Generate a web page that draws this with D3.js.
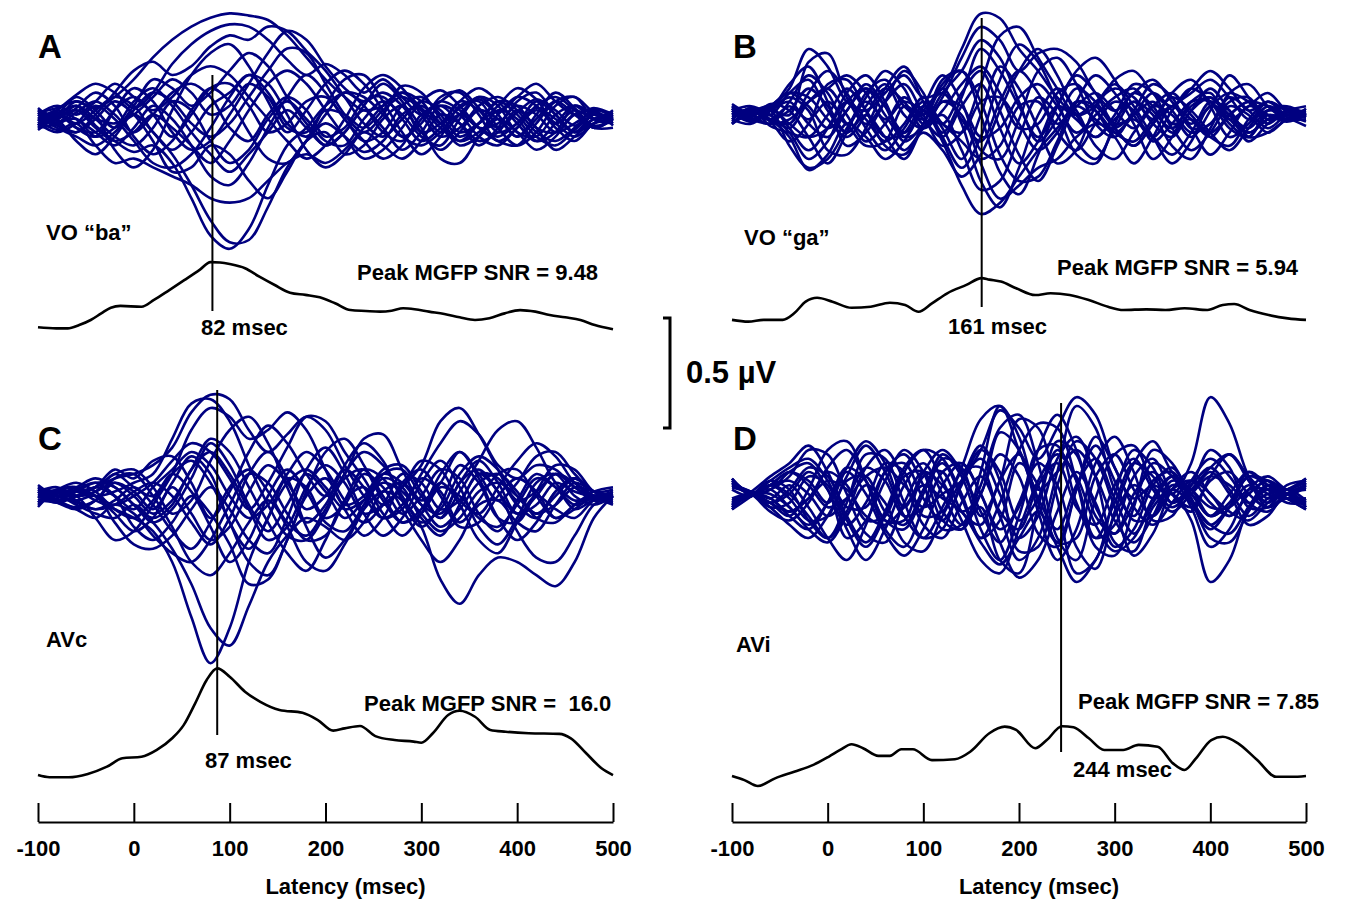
<!DOCTYPE html>
<html><head><meta charset="utf-8">
<script src="https://cdn.jsdelivr.net/npm/d3@7"></script>
<style>
html,body{margin:0;padding:0;background:#fff;}
svg{display:block;}
text{font-family:"Liberation Sans",Arial,Helvetica,sans-serif;font-weight:bold;fill:#000;}
</style></head><body>
<svg id="chart" width="1354" height="904"></svg>
<script>
// Sample latencies (ms) shared by every channel waveform
const sampleTimes = [-100,-80,-60,-40,-20,0,20,40,60,80,100,120,140,160,180,200,220,240,260,280,300,320,340,360,380,400,420,440,460,480,500];
const tickValues = [-100,0,100,200,300,400,500];

// Channel waveforms (µV), one row per channel — VO "ba"
const chanA = [
 [0.03,0.05,0.08,0.05,0.10, 0.18,0.28,0.36,0.42,0.46, 0.48,0.47,0.45,0.38,0.28, 0.18,0.10,0.04,0.06,0.12, 0.08,-0.02,0.05,0.09,0.03, 0.10,0.16,0.08,0.02,0.05, 0.02],
 [-0.02,0.04,0.11,0.16,0.12, 0.05,0.12,0.25,0.34,0.40, 0.43,0.42,0.36,0.27,0.20, 0.25,0.20,0.12,0.18,0.10, 0.02,0.08,0.13,0.05,-0.04, 0.03,0.09,0.04,-0.03,0.02, 0.01],
 [0.02,-0.03,-0.06,0.02,0.12, 0.22,0.26,0.20,0.24,0.33, 0.38,0.36,0.42,0.40,0.31, 0.22,0.10,-0.02,-0.08,0.00, 0.08,0.04,-0.06,-0.02,0.06, 0.14,0.09,-0.02,0.04,0.00, -0.01],
 [-0.02,0.02,0.06,-0.03,-0.10, -0.15,-0.12,-0.20,-0.36,-0.53, -0.59,-0.50,-0.30,-0.12,-0.04, 0.06,0.12,0.10,0.02,-0.08, -0.12,-0.06,0.02,-0.04,-0.08, -0.02,0.05,0.00,-0.06,-0.02, 0.00],
 [0.01,-0.04,-0.08,-0.12,-0.06, 0.02,-0.06,-0.16,-0.30,-0.46, -0.56,-0.55,-0.40,-0.22,-0.10, -0.02,-0.08,-0.15,-0.10,0.02, 0.06,-0.02,-0.12,-0.08,0.00, -0.06,-0.14,-0.08,0.02,-0.04, 0.00],
 [0.00,-0.05,-0.02,-0.12,-0.20, -0.18,-0.22,-0.26,-0.30,-0.36, -0.38,-0.36,-0.28,-0.20,-0.16, -0.20,-0.14,-0.04,0.06,0.12, 0.05,-0.04,-0.10,-0.02,0.08, 0.02,-0.08,-0.12,-0.05,0.02, 0.00],
 [0.02,0.06,0.02,0.08,0.16, 0.10,0.04,0.10,0.20,0.24, 0.20,0.10,0.00,-0.10,-0.18, -0.12,0.00,0.14,0.20,0.14, 0.02,-0.08,-0.04,0.06,0.10, 0.04,-0.06,-0.10,-0.04,0.04, 0.01],
 [-0.03,0.00,0.04,-0.04,-0.10, -0.06,0.02,-0.04,-0.12,-0.20, -0.10,0.04,0.16,0.22,0.16, 0.04,-0.08,-0.18,-0.14,-0.04, 0.08,0.13,0.06,-0.04,-0.10, -0.12,-0.02,0.08,0.10,0.03, 0.00],
 [0.04,0.00,-0.10,-0.16,-0.08, 0.04,0.12,0.08,-0.02,-0.08, -0.02,0.10,0.22,0.32,0.30, 0.16,0.02,-0.06,0.02,0.15, 0.12,0.00,-0.10,-0.06,0.02, 0.10,0.06,-0.04,-0.10,-0.02, 0.00],
 [-0.04,-0.02,0.05,0.12,0.06, -0.08,-0.16,-0.10,0.04,0.14, 0.08,-0.06,-0.18,-0.20,-0.10, 0.06,0.18,0.20,0.08,-0.06, -0.16,-0.08,0.06,0.08,-0.04, -0.12,-0.06,0.06,0.10,0.00, -0.02],
 [0.00,0.03,-0.04,-0.08,0.04, 0.14,0.08,-0.06,-0.14,-0.10, 0.02,0.16,0.30,0.40,0.36, 0.24,0.14,0.08,0.12,0.06, -0.06,-0.14,-0.06,0.04,0.00, -0.08,0.02,0.12,0.05,-0.03, 0.00],
 [-0.02,-0.06,-0.02,0.06,0.00, -0.10,-0.20,-0.22,-0.16,-0.04, 0.10,0.20,0.16,0.02,-0.14, -0.22,-0.16,-0.06,-0.12,-0.18, -0.10,0.02,-0.02,-0.10,-0.06, 0.04,-0.04,-0.14,-0.08,0.00, 0.00],
 [0.03,0.01,0.08,0.02,-0.14, -0.22,-0.14,0.04,0.20,0.30, 0.34,0.24,0.08,-0.06,0.04, 0.16,0.22,0.16,0.04,-0.08, -0.02,0.10,0.12,0.02,-0.10, -0.04,0.06,0.10,0.04,-0.04, 0.00],
 [-0.01,0.04,0.00,-0.06,-0.12, -0.04,0.06,0.00,-0.12,-0.26, -0.30,-0.20,-0.04,0.10,0.20, 0.12,0.00,-0.10,-0.18,-0.12, 0.02,0.06,-0.02,-0.12,-0.04, 0.08,0.12,0.02,-0.06,0.02, 0.00],
 [0.02,-0.02,-0.06,0.00,0.08, 0.02,-0.10,-0.24,-0.22,-0.12, -0.16,-0.28,-0.36,-0.24,-0.10, -0.06,-0.16,-0.12,0.00,0.06, -0.04,-0.18,-0.20,-0.08,0.04, 0.00,-0.10,-0.06,0.06,0.02, 0.00],
 [-0.03,0.02,0.10,0.04,-0.04, 0.06,0.18,0.14,0.06,0.12, 0.22,0.30,0.24,0.10,-0.02, -0.12,-0.06,0.06,0.16,0.08, -0.06,-0.02,0.08,0.14,0.08, -0.02,-0.10,-0.02,0.06,0.02, 0.00],
 [0.04,-0.02,0.03,0.08,0.02, -0.06,0.02,0.12,0.16,0.10, -0.04,-0.10,0.02,0.10,0.04, -0.08,-0.04,0.08,0.10,0.00, -0.10,-0.04,0.08,0.04,-0.06, -0.02,0.08,0.02,-0.06,0.00, 0.03],
 [-0.04,0.02,-0.04,-0.06,0.04, 0.10,0.02,-0.08,0.02,0.14, 0.16,0.06,-0.06,-0.02,0.08, 0.10,0.00,-0.10,-0.06,0.06, 0.10,0.02,-0.08,-0.02,0.08, 0.06,-0.04,-0.06,0.02,0.04, -0.03],
 [0.03,0.00,0.06,0.00,-0.08, -0.12,-0.04,0.08,0.04,-0.10, -0.20,-0.14,0.00,0.08,0.00, -0.10,-0.12,0.00,0.08,0.02, -0.08,-0.12,0.00,0.10,0.06, -0.06,-0.08,0.02,0.06,0.00, 0.02],
 [-0.03,0.03,-0.02,0.04,0.10, 0.06,-0.06,-0.14,-0.06,0.06, 0.12,0.20,0.12,-0.02,-0.08, 0.02,0.12,0.06,-0.06,-0.10, 0.00,0.08,0.04,-0.04,-0.02, 0.06,0.02,-0.06,-0.02,0.03, -0.02],
 [0.05,-0.01,0.00,-0.08,-0.04, 0.08,0.14,0.06,-0.06,-0.16, -0.24,-0.16,-0.06,0.04,-0.04, -0.12,-0.06,0.04,-0.04,-0.14, -0.06,0.06,0.02,-0.08,-0.12, -0.04,0.04,-0.02,-0.08,-0.02, 0.04],
 [-0.05,0.01,0.04,0.00,-0.02, 0.02,0.10,0.18,0.12,0.02, 0.06,0.16,0.10,-0.04,-0.06, 0.04,0.02,-0.04,0.04,0.10, 0.04,-0.06,0.02,0.10,0.02, -0.08,0.00,0.08,0.02,-0.04, -0.04]
];

// VO "ga"
const chanB = [
 [0.02,-0.02,0.03,0.12,0.30, 0.22,0.06,0.02,0.10,0.18, 0.08,0.12,0.30,0.46,0.44, 0.30,0.20,0.08,0.00,0.06, 0.12,0.08,-0.02,0.04,0.10, 0.16,0.08,-0.02,0.02,0.03, 0.01],
 [-0.02,0.03,-0.02,-0.10,-0.25, -0.18,-0.04,-0.10,-0.20,-0.12, 0.02,-0.12,-0.32,-0.45,-0.40, -0.28,-0.16,-0.06,0.04,-0.02, -0.10,-0.22,-0.10,0.04,-0.06, -0.18,-0.08,0.04,0.00,-0.03, 0.00],
 [0.03,0.00,-0.04,0.06,0.18, 0.10,-0.04,0.08,0.20,0.12, -0.04,0.08,0.26,0.40,0.34, 0.20,0.28,0.30,0.24,0.10, 0.02,0.10,0.16,0.06,-0.04, 0.04,0.10,0.06,-0.02,0.00, 0.00],
 [-0.03,0.01,0.04,-0.06,-0.16, -0.06,0.10,0.18,0.06,-0.10, -0.06,0.06,0.00,-0.22,-0.38, -0.32,-0.24,-0.20,-0.10,-0.04, -0.06,0.00,0.06,-0.06,-0.16, -0.08,0.04,0.00,-0.08,-0.02, 0.00],
 [0.01,-0.03,0.02,0.14,0.22, 0.06,-0.14,-0.08,0.06,0.20, 0.10,-0.08,0.08,0.30,0.20, 0.04,-0.10,0.04,0.20,0.26, 0.16,0.00,-0.10,0.02,0.12, 0.06,-0.06,-0.10,0.02,0.04, 0.00],
 [0.00,0.02,-0.03,-0.12,-0.04, 0.14,0.16,0.02,-0.14,-0.18, -0.04,0.14,0.20,0.06,-0.18, -0.30,-0.28,-0.12,0.06,0.02, -0.08,-0.12,-0.02,0.08,0.02, -0.08,-0.16,-0.06,0.04,0.00, -0.01],
 [0.02,0.04,0.00,-0.08,-0.20, -0.12,0.06,0.12,0.00,-0.10, 0.04,0.18,0.06,-0.16,-0.20, -0.02,0.20,0.26,0.14,-0.04, -0.10,0.02,0.14,0.08,-0.06, -0.04,0.10,0.14,0.04,-0.02, 0.00],
 [-0.02,-0.04,0.02,0.08,0.02, -0.16,-0.18,-0.06,0.12,0.22, 0.06,-0.10,-0.24,-0.10,0.16, 0.32,0.24,0.06,-0.12,-0.20, -0.06,0.06,0.00,-0.14,-0.20, -0.06,0.08,0.02,-0.06,0.00, 0.01],
 [0.04,0.00,0.04,0.10,0.04, -0.06,0.02,0.14,0.04,-0.12, -0.04,0.12,-0.04,-0.30,-0.42, -0.24,0.00,0.12,0.02,-0.14, -0.20,-0.08,0.04,0.00,-0.10, 0.02,0.18,0.08,-0.04,0.02, 0.00],
 [-0.04,0.02,-0.02,-0.04,0.10, 0.20,0.10,-0.06,-0.16,-0.06, 0.06,-0.06,-0.20,0.00,0.22, 0.12,-0.06,-0.22,-0.16,0.04, 0.14,0.04,-0.10,-0.22,-0.12, 0.04,0.00,-0.12,-0.04,0.02, 0.00],
 [0.02,-0.01,0.05,0.02,-0.10, -0.22,-0.08,0.10,0.16,0.04, -0.02,0.10,0.20,0.34,0.26, 0.06,-0.12,-0.02,0.12,0.06, -0.06,-0.14,-0.04,0.10,0.16, 0.04,-0.10,-0.04,0.06,0.02, -0.01],
 [-0.01,0.03,0.00,0.10,0.16, 0.02,-0.08,0.00,-0.10,-0.20, -0.06,0.00,-0.16,-0.34,-0.30, -0.10,0.08,0.00,-0.18,-0.22, -0.04,0.10,0.04,-0.08,0.02, 0.12,0.02,-0.08,-0.02,0.00, 0.01],
 [0.03,-0.02,-0.04,-0.02,0.06, 0.12,0.18,0.10,-0.02,0.06, 0.02,-0.04,0.10,0.20,0.02, -0.18,-0.30,-0.14,0.06,0.18, 0.10,-0.04,-0.20,-0.10,0.06, 0.10,-0.02,0.04,0.10,0.02, 0.00],
 [-0.03,0.00,0.02,-0.14,-0.24, -0.20,-0.06,0.06,-0.04,-0.16, -0.08,-0.16,-0.28,-0.18,0.02, 0.20,0.30,0.18,0.00,-0.10, 0.00,0.14,0.10,-0.04,-0.02, -0.10,-0.14,-0.02,0.06,0.00, 0.00],
 [0.00,0.02,-0.02,0.04,-0.02, 0.06,-0.04,-0.14,-0.12,0.04, 0.00,0.16,0.20,0.00,-0.26, -0.36,-0.18,0.04,0.18,0.10, -0.04,-0.02,-0.10,-0.18,-0.08, 0.06,0.02,-0.10,-0.08,-0.02, 0.00],
 [0.02,0.00,0.02,0.00,0.24, 0.28,0.08,-0.04,0.06,0.14, 0.00,-0.14,-0.08,0.14,0.36, 0.40,0.26,0.12,0.00,0.04, 0.16,0.20,0.10,0.04,0.12, 0.20,0.12,0.02,0.06,0.02, 0.00],
 [0.04,-0.02,0.02,0.06,-0.04, -0.10,0.02,0.12,0.04,-0.08, 0.02,0.10,-0.02,-0.12,0.06, 0.20,0.10,-0.04,0.04,0.10, 0.02,-0.06,0.04,0.10,0.00, -0.08,0.00,0.06,0.00,-0.02, 0.03],
 [-0.04,0.02,0.00,-0.06,0.06, 0.12,0.00,-0.12,-0.04,0.08, -0.02,-0.10,0.04,0.14,-0.06, -0.22,-0.12,0.04,-0.02,-0.10, -0.02,0.06,-0.04,-0.10,0.02, 0.08,0.00,-0.06,0.02,0.00, -0.03],
 [0.03,-0.03,0.04,0.10,0.08, -0.02,-0.10,0.00,0.12,0.06, -0.06,0.02,0.14,0.22,0.10, -0.06,-0.04,0.10,0.14,0.02, -0.08,0.00,0.10,0.02,-0.08, -0.04,0.06,0.08,-0.02,0.01, 0.02],
 [-0.02,0.03,-0.05,-0.08,-0.10, 0.00,0.12,0.02,-0.10,-0.08, 0.04,-0.04,-0.12,-0.20,-0.14, 0.04,0.06,-0.08,-0.16,-0.04, 0.06,0.02,-0.12,-0.04,0.06, 0.06,-0.04,-0.10,0.00,-0.02, -0.02],
 [0.05,0.00,-0.02,0.02,0.12, 0.04,-0.08,0.04,0.14,0.00, -0.06,0.06,0.04,-0.10,-0.06, 0.08,0.14,0.04,-0.08,0.00, 0.08,0.12,0.02,-0.06,0.04, 0.08,-0.02,-0.08,-0.02,0.02, 0.04],
 [-0.04,0.01,0.03,-0.04,-0.10, -0.06,0.06,-0.02,-0.12,-0.04, 0.08,-0.04,-0.08,0.06,0.08, -0.04,-0.16,-0.08,0.06,0.04, -0.06,-0.14,-0.04,0.04,-0.02, -0.10,0.00,0.06,0.04,-0.01, -0.05]
];

// AVc
const chanC = [
 [0.02,-0.02,0.02,-0.02,-0.06, -0.10,-0.16,-0.30,-0.55,-0.76, -0.60,-0.30,-0.10,0.06,0.12, 0.04,-0.06,-0.02,0.06,0.02, -0.08,-0.16,-0.10,0.02,0.06, 0.00,-0.08,-0.04,0.04,0.02, 0.00],
 [-0.02,0.00,-0.04,-0.08,-0.10, -0.04,-0.12,-0.24,-0.40,-0.60, -0.68,-0.50,-0.30,-0.18,-0.10, -0.14,-0.20,-0.12,0.02,0.06, -0.04,-0.14,-0.06,0.06,0.10, 0.02,-0.10,-0.12,-0.04,0.00, 0.01],
 [0.03,0.02,0.00,0.04,0.08, 0.10,0.14,0.22,0.38,0.46, 0.44,0.30,0.20,0.28,0.36, 0.30,0.14,0.00,-0.10,-0.04, 0.10,0.24,0.34,0.28,0.14, 0.08,0.14,0.12,0.04,0.00, 0.00],
 [-0.01,0.03,0.04,0.00,0.02, 0.06,0.10,0.26,0.42,0.44, 0.34,0.14,-0.04,-0.18,-0.20, -0.08,0.10,0.20,0.14,0.00, -0.12,-0.06,0.10,0.18,0.12, 0.00,-0.08,0.00,0.08,0.02, -0.01],
 [0.00,-0.02,0.02,0.06,0.04, -0.04,-0.10,-0.04,0.12,0.20, 0.10,-0.06,-0.20,-0.14,0.04, 0.14,0.06,-0.08,-0.04,0.04, 0.14,0.34,0.40,0.28,0.12, -0.02,0.02,0.10,0.04,-0.02, 0.00],
 [0.02,0.00,-0.03,-0.06,-0.04, 0.02,0.06,0.00,-0.12,-0.22, -0.10,0.10,0.20,0.08,-0.14, -0.28,-0.20,-0.06,0.02,-0.02, -0.14,-0.38,-0.49,-0.36,-0.28, -0.30,-0.36,-0.41,-0.30,-0.10, 0.00],
 [-0.03,0.02,0.00,-0.10,-0.20, -0.16,-0.04,0.10,0.30,0.40, 0.36,0.26,0.30,0.38,0.30, 0.12,-0.04,0.00,0.12,0.14, 0.02,-0.10,0.02,0.16,0.30, 0.34,0.22,0.06,-0.02,0.00, 0.00],
 [0.02,-0.03,-0.06,-0.02,0.08, 0.10,0.00,-0.14,-0.30,-0.36, -0.26,-0.12,-0.02,-0.14,-0.30, -0.34,-0.22,-0.06,0.08,0.04, -0.10,-0.18,-0.04,0.10,0.02, -0.16,-0.28,-0.30,-0.18,-0.04, 0.00],
 [0.00,0.03,0.06,0.02,-0.06, -0.10,-0.02,0.10,0.16,0.06, -0.12,-0.30,-0.36,-0.20,0.02, 0.20,0.26,0.14,-0.02,-0.12, -0.06,0.10,0.20,0.08,-0.10, -0.20,-0.12,0.02,0.08,0.02, 0.00],
 [-0.02,-0.01,0.02,0.04,0.10, 0.12,0.04,-0.08,-0.02,0.16, 0.30,0.36,0.24,0.04,-0.12, -0.04,0.14,0.24,0.16,-0.02, -0.14,-0.04,0.14,0.06,-0.10, -0.12,0.02,0.14,0.12,0.02, 0.00],
 [0.03,0.00,-0.02,0.00,-0.12, -0.22,-0.24,-0.18,-0.06,0.04, -0.06,-0.20,-0.26,-0.10,0.12, 0.22,0.10,-0.08,-0.18,-0.10, 0.06,0.16,0.04,-0.14,-0.22, -0.10,0.06,0.10,0.00,-0.04, 0.00],
 [-0.03,0.02,0.04,0.00,-0.04, 0.00,0.06,0.16,0.24,0.20, 0.08,-0.06,0.06,0.22,0.36, 0.34,0.20,0.08,-0.04,0.04, 0.16,0.12,-0.02,-0.08,0.04, 0.16,0.24,0.18,0.06,0.00, 0.00],
 [0.01,-0.02,-0.06,-0.10,-0.04, -0.08,-0.18,-0.26,-0.30,-0.20, -0.04,0.10,0.06,-0.08,-0.20, -0.18,-0.02,0.12,0.08,-0.06, -0.20,-0.30,-0.20,-0.04,-0.02, -0.12,-0.16,-0.04,0.06,0.02, 0.00],
 [0.02,0.04,0.00,0.02,0.06, 0.00,-0.08,-0.02,0.12,0.26, 0.20,0.04,-0.12,-0.26,-0.34, -0.20,-0.02,0.04,-0.08,-0.18, -0.08,0.06,-0.04,-0.20,-0.26, -0.12,0.00,-0.06,-0.10,-0.02, 0.00],
 [-0.02,0.00,0.03,0.06,0.00, -0.14,-0.20,-0.12,0.00,-0.08, -0.22,-0.40,-0.38,-0.20,0.00, 0.08,-0.06,-0.18,-0.10,0.06, 0.12,0.00,-0.14,-0.12,0.00, 0.08,0.02,-0.10,-0.06,0.00, 0.00],
 [0.00,-0.03,0.00,0.04,0.12, 0.08,0.16,0.18,0.06,-0.10, 0.02,0.20,0.32,0.24,0.10, 0.00,0.10,0.26,0.28,0.12, -0.02,0.06,0.20,0.10,-0.02, 0.06,0.18,0.20,0.10,0.02, 0.00],
 [0.04,-0.02,0.00,0.04,0.00, -0.06,0.04,0.12,0.20,0.14, 0.00,-0.10,-0.04,0.10,0.20, 0.12,-0.02,-0.12,-0.04,0.10, 0.06,-0.06,-0.02,0.10,0.08, -0.04,-0.10,0.02,0.08,0.02, 0.03],
 [-0.04,0.02,-0.02,-0.06,-0.02, 0.04,-0.04,-0.16,-0.24,-0.12, 0.04,0.12,0.02,-0.12,-0.18, -0.06,0.08,0.12,0.00,-0.12, -0.08,0.04,0.00,-0.10,-0.14, -0.04,0.08,0.04,-0.06,-0.02, -0.03],
 [0.03,0.01,0.04,0.08,0.04, -0.04,-0.12,-0.06,0.08,0.24, 0.14,-0.04,-0.16,-0.04,0.10, 0.02,-0.10,-0.02,0.10,0.06, -0.04,-0.08,0.06,0.16,0.06, -0.08,-0.04,0.06,0.02,0.00, 0.02],
 [-0.02,-0.03,-0.05,-0.02,0.06, 0.02,-0.06,0.06,0.18,0.10, -0.12,-0.24,-0.10,0.08,0.04, -0.10,-0.04,0.10,0.04,-0.08, 0.00,0.12,0.08,-0.08,-0.16, -0.02,0.10,0.04,-0.04,-0.01, -0.02],
 [0.05,0.00,0.02,0.00,-0.08, -0.16,-0.10,0.04,-0.08,-0.20, -0.14,0.02,0.14,0.06,-0.06, 0.00,0.12,0.04,-0.10,-0.06, 0.08,0.02,-0.12,-0.02,0.10, 0.12,0.00,-0.10,-0.04,0.02, 0.04],
 [-0.05,0.02,0.00,0.02,0.10, 0.04,0.00,0.10,0.02,-0.14, -0.30,-0.20,0.00,0.12,0.02, -0.12,-0.16,-0.04,0.10,0.12, 0.00,-0.10,0.06,0.12,0.02, -0.08,0.00,0.10,0.06,0.00, -0.04]
];

// AVi
const chanD = [
 [0.06,0.00,0.04,0.10,0.04, -0.06,-0.02,0.08,0.12,0.04, -0.06,0.00,0.06,0.20,0.38, 0.30,0.16,0.30,0.44,0.36, 0.12,-0.02,0.04,0.00,0.14, 0.44,0.32,0.08,-0.04,0.04, 0.06],
 [-0.06,0.00,-0.04,-0.08,-0.02, 0.06,0.02,-0.10,-0.14,-0.06, 0.04,-0.02,-0.08,-0.22,-0.32, -0.20,-0.08,-0.24,-0.40,-0.30, -0.10,0.04,-0.02,0.00,-0.12, -0.40,-0.30,-0.06,0.04,-0.02, -0.07],
 [0.04,0.01,-0.06,-0.14,-0.20, -0.10,0.08,0.22,0.10,-0.10, -0.20,-0.06,0.12,0.34,0.40, 0.20,0.02,0.10,0.20,0.08, -0.12,-0.22,-0.10,0.06,0.02, -0.10,-0.04,0.10,0.04,-0.02, 0.05],
 [-0.04,0.01,0.08,0.14,0.22, 0.10,-0.10,-0.22,-0.08,0.12, 0.20,0.06,-0.12,-0.30,-0.36, -0.16,0.06,0.18,0.08,-0.14, -0.26,-0.20,-0.02,0.08,0.00, -0.10,0.00,0.10,0.02,-0.04, -0.04],
 [0.02,-0.01,0.04,0.00,-0.10, -0.20,-0.08,0.12,0.20,0.06, -0.14,-0.20,-0.04,0.08,-0.10, -0.30,-0.20,0.10,0.40,0.30, 0.02,-0.10,0.06,0.10,-0.04, -0.16,-0.06,0.08,0.06,0.00, 0.03],
 [-0.02,0.00,-0.04,-0.10,0.02, 0.20,0.24,0.06,-0.16,-0.24, -0.06,0.16,0.12,-0.10,0.06, 0.34,0.30,-0.02,-0.36,-0.30, 0.00,0.20,0.12,-0.04,0.04, 0.20,0.12,-0.06,-0.06,0.02, -0.03],
 [0.07,0.00,0.06,0.12,0.16, 0.06,-0.12,-0.24,-0.10,0.10, 0.20,0.16,0.00,-0.20,-0.04, 0.20,0.32,0.30,0.06,-0.24, -0.28,-0.06,0.20,0.14,-0.02, -0.20,-0.22,-0.08,0.04,0.02, 0.07],
 [-0.05,0.01,-0.02,0.04,-0.06, -0.20,-0.30,-0.14,0.10,0.18, 0.04,-0.16,-0.14,0.04,0.30, 0.36,0.14,-0.20,-0.30,-0.02, 0.18,0.22,0.04,-0.06,0.02, 0.12,0.18,0.06,-0.06,-0.02, -0.05],
 [0.03,0.00,-0.08,-0.12,-0.04, 0.12,0.20,0.06,-0.12,-0.16, 0.00,0.18,0.08,-0.16,-0.30, -0.10,0.20,0.36,0.20,-0.06, -0.18,-0.04,0.14,0.08,-0.06, -0.24,-0.16,0.02,0.08,0.02, 0.02],
 [-0.07,-0.01,0.06,0.02,-0.12, -0.20,-0.04,0.18,0.16,-0.04, -0.20,-0.16,0.06,0.22,0.06, -0.26,-0.24,0.04,0.24,0.16, -0.06,-0.28,-0.18,0.02,0.10, 0.00,-0.08,-0.12,-0.04,0.02, -0.06],
 [0.05,0.00,0.02,0.08,0.20, 0.18,0.00,-0.18,-0.22,-0.04, 0.10,0.04,-0.08,0.00,0.28, 0.20,-0.08,-0.30,-0.16,0.14, 0.26,0.10,-0.12,-0.10,0.06, 0.16,0.08,-0.04,-0.08,0.00, 0.04],
 [-0.03,0.00,-0.06,-0.04,0.08, 0.04,-0.16,-0.30,-0.16,0.04, 0.14,0.00,-0.14,-0.06,-0.30, -0.36,-0.06,0.20,0.06,-0.20, -0.14,0.08,0.16,0.00,-0.08, 0.08,0.18,0.08,0.00,-0.02, -0.02],
 [0.04,0.01,0.00,-0.06,-0.16, -0.22,-0.10,0.04,-0.04,-0.22, -0.26,-0.10,0.06,0.16,0.00, -0.20,-0.10,0.16,0.26,0.08, -0.22,-0.26,-0.06,0.02,-0.04, -0.14,-0.18,-0.06,0.02,0.00, 0.04],
 [-0.04,-0.01,0.04,0.10,0.06, -0.04,0.12,0.24,0.14,-0.06, 0.10,0.20,0.10,-0.08,-0.22, -0.04,0.14,0.04,-0.24,-0.34, -0.08,0.14,0.24,0.10,0.02, 0.10,0.00,-0.14,-0.10,0.00, -0.04],
 [0.06,0.00,-0.04,0.00,0.10, 0.02,-0.20,-0.12,0.06,0.20, 0.10,-0.12,-0.16,0.10,0.40, 0.26,-0.04,-0.22,0.02,0.26, 0.12,-0.06,-0.14,-0.04,0.06, 0.00,-0.10,0.00,0.06,0.02, 0.06],
 [-0.06,0.00,0.02,-0.06,-0.14, -0.04,0.10,0.00,-0.18,-0.28, -0.16,0.04,0.14,0.00,-0.22, -0.38,-0.30,-0.08,0.10,-0.04, -0.24,-0.16,0.04,0.12,-0.02, -0.14,-0.06,0.04,-0.02,0.00, -0.06],
 [0.05,0.00,0.04,0.06,0.00, -0.10,-0.02,0.12,0.06,-0.10, -0.06,0.10,0.14,0.00,-0.16, -0.06,0.20,0.22,-0.04,-0.20, -0.04,0.14,0.08,-0.04,0.04, 0.12,0.02,-0.10,-0.02,0.02, 0.05],
 [-0.05,0.00,-0.02,-0.08,-0.02, 0.10,0.04,-0.12,-0.10,0.08, 0.10,-0.08,-0.16,0.00,0.18, 0.08,-0.18,-0.24,0.02,0.22, 0.06,-0.12,-0.10,0.04,0.00, -0.10,-0.04,0.08,0.04,-0.02, -0.05],
 [0.04,0.01,-0.04,0.02,0.12, 0.08,-0.06,-0.06,0.10,0.14, -0.02,-0.12,0.04,0.20,0.10, -0.12,-0.02,0.24,0.18,-0.10, -0.18,0.00,0.10,0.00,-0.06, 0.06,0.10,0.00,-0.06,0.00, 0.04],
 [-0.04,-0.01,0.04,-0.02,-0.12, -0.10,0.06,0.08,-0.08,-0.14, 0.02,0.14,-0.02,-0.20,-0.12, 0.14,0.04,-0.22,-0.20,0.08, 0.18,0.02,-0.10,0.02,0.06, -0.04,-0.10,0.00,0.06,0.00, -0.04],
 [0.07,0.00,0.02,0.10,0.14, 0.02,-0.14,-0.04,0.14,0.10, -0.10,-0.08,0.10,0.12,-0.08, -0.16,0.04,0.14,-0.06,-0.14, 0.04,0.16,0.02,-0.08,0.00, 0.08,0.04,-0.04,0.00,0.02, 0.07],
 [-0.07,0.00,-0.02,-0.10,-0.16, -0.04,0.12,0.06,-0.12,-0.12, 0.08,0.10,-0.08,-0.14,0.06, 0.18,-0.02,-0.16,0.04,0.16, -0.02,-0.18,-0.04,0.08,0.02, -0.06,-0.06,0.02,0.02,-0.02, -0.07]
];

// Mean global field power (µV) with its own latency samples (ms)
const mgfpTimesA = [-100,-81,-69,-57,-45,-34,-24,-14,8,21,37,53,69,80,90,100,116,131,147,163,179,194,210,226,242,257,269,281,293,308,324,340,356,371,387,403,419,434,450,466,481,500];
const mgfpA = [0.058,0.053,0.053,0.068,0.091,0.121,0.147,0.155,0.151,0.182,0.227,0.273,0.32,0.354,0.352,0.345,0.326,0.288,0.25,0.215,0.205,0.194,0.167,0.136,0.132,0.129,0.133,0.144,0.14,0.129,0.118,0.103,0.091,0.099,0.121,0.136,0.129,0.114,0.103,0.091,0.068,0.049];
const mgfpTimesB = [-100,-83,-67,-47,-35,-23,-11,5,25,45,65,81,95,109,125,145,161,169,181,197,217,233,253,273,293,309,333,353,373,397,413,425,441,461,481,500];
const mgfpB = [0.055,0.047,0.055,0.055,0.085,0.138,0.156,0.138,0.11,0.115,0.133,0.123,0.092,0.13,0.176,0.214,0.245,0.238,0.229,0.199,0.168,0.176,0.168,0.145,0.115,0.1,0.103,0.1,0.108,0.1,0.123,0.127,0.1,0.077,0.062,0.055];
const mgfpTimesC = [-100,-88,-68,-48,-28,-12,8,24,40,52,64,76,87,100,116,132,152,176,192,208,220,236,252,272,292,300,312,328,340,356,372,388,412,444,456,472,488,500];
const mgfpC = [0.068,0.058,0.058,0.073,0.106,0.144,0.151,0.182,0.235,0.295,0.394,0.5,0.553,0.515,0.447,0.401,0.364,0.351,0.318,0.27,0.28,0.291,0.245,0.227,0.22,0.215,0.258,0.341,0.36,0.333,0.273,0.265,0.258,0.255,0.235,0.167,0.099,0.068];
const mgfpTimesD = [-100,-87,-73,-55,-35,-15,1,13,25,37,53,65,77,89,109,133,149,169,185,197,217,229,245,257,273,289,309,325,345,361,373,385,401,413,429,449,469,485,500];
const mgfpD = [0.064,0.045,0.018,0.053,0.083,0.114,0.151,0.182,0.208,0.19,0.155,0.155,0.185,0.185,0.136,0.14,0.174,0.258,0.288,0.273,0.19,0.227,0.29,0.285,0.235,0.182,0.182,0.205,0.197,0.121,0.091,0.144,0.227,0.242,0.212,0.136,0.06,0.06,0.064];

// Panel labels, conditions, peak latencies and SNR values
const panelLetters = ["A","B","C","D"];
const conditionNames = ["VO \u201cba\u201d","VO \u201cga\u201d","AVc","AVi"];
const peakLatencies = [82,161,87,244];
const peakSNR = ["9.48","5.94"," 16.0","7.85"];
const channelSets = [chanA,chanB,chanC,chanD];
const mgfpTimeSets = [mgfpTimesA,mgfpTimesB,mgfpTimesC,mgfpTimesD];
const mgfpSets = [mgfpA,mgfpB,mgfpC,mgfpD];

// ---- layout ----
const W = 1354, H = 904;
const PX_PER_UV = 220;
const columns = [[38,613],[732,1306]];
const axisY = 822;
const layout = [
  {col:0, center:119, mgfpZero:340, line:[75,311],  letter:[38,58],  cond:[46,240],  snr:[357,280],  lat:[201,335]},
  {col:1, center:115, mgfpZero:332, line:[18,307],  letter:[733,58], cond:[744,245], snr:[1057,275], lat:[948,334]},
  {col:0, center:496, mgfpZero:790, line:[390,735], letter:[38,450], cond:[46,647],  snr:[364,711],  lat:[205,768]},
  {col:1, center:494, mgfpZero:790, line:[403,752], letter:[733,450],cond:[736,652], snr:[1078,709], lat:[1073,777]}
];

const svg = d3.select("#chart");
svg.append("rect").attr("width",W).attr("height",H).attr("fill","#fff");

const xScales = columns.map(r => d3.scaleLinear().domain([-100,500]).range(r));

layout.forEach((L, p) => {
  const x = xScales[L.col];
  const y = d3.scaleLinear().domain([-1,1]).range([L.center + PX_PER_UV, L.center - PX_PER_UV]);
  const yM = d3.scaleLinear().domain([0,1]).range([L.mgfpZero, L.mgfpZero - PX_PER_UV]);
  const g = svg.append("g");

  // butterfly plot of all channels
  const chLine = d3.line()
    .x((d,i) => x(sampleTimes[i]))
    .y(d => y(d))
    .curve(d3.curveCatmullRom.alpha(0.5));
  g.selectAll("path.ch").data(channelSets[p]).join("path")
    .attr("class","ch")
    .attr("d", chLine)
    .attr("fill","none")
    .attr("stroke","#000080")
    .attr("stroke-width",2.6)
    .attr("stroke-linejoin","round");

  // peak latency marker
  const px = x(peakLatencies[p]);
  g.append("line")
    .attr("x1",px).attr("x2",px)
    .attr("y1",L.line[0]).attr("y2",L.line[1])
    .attr("stroke","#000").attr("stroke-width",2);

  // MGFP trace
  const tArr = mgfpTimeSets[p];
  const mLine = d3.line()
    .x((d,i) => x(tArr[i]))
    .y(d => yM(d))
    .curve(d3.curveMonotoneX);
  g.append("path")
    .attr("d", mLine(mgfpSets[p]))
    .attr("fill","none")
    .attr("stroke","#000")
    .attr("stroke-width",2.6)
    .attr("stroke-linejoin","round");

  // text
  g.append("text").attr("x",L.letter[0]).attr("y",L.letter[1])
    .style("font-size","33px").text(panelLetters[p]);
  g.append("text").attr("x",L.cond[0]).attr("y",L.cond[1])
    .style("font-size","22px").text(conditionNames[p]);
  g.append("text").attr("x",L.snr[0]).attr("y",L.snr[1])
    .attr("xml:space","preserve").style("white-space","pre")
    .style("font-size","22px").text("Peak MGFP SNR = " + peakSNR[p]);
  g.append("text").attr("x",L.lat[0]).attr("y",L.lat[1])
    .style("font-size","22px").text(peakLatencies[p] + " msec");
});

// latency axes under the lower panels
xScales.forEach(x => {
  const axis = d3.axisBottom(x)
    .tickValues(tickValues)
    .tickFormat(d3.format("d"))
    .tickSizeInner(-19)
    .tickSizeOuter(0)
    .tickPadding(18);
  const ag = svg.append("g").attr("transform",`translate(0,${axisY})`).call(axis);
  ag.select(".domain").attr("stroke","#000").attr("stroke-width",2);
  ag.selectAll(".tick line").attr("stroke","#000").attr("stroke-width",2);
  ag.selectAll(".tick text")
    .style("font-family",'"Liberation Sans",Arial,Helvetica,sans-serif')
    .style("font-weight","bold").style("font-size","22px").attr("fill","#000")
    .text(d => d < 0 ? "-" + Math.abs(d) : d);
  const mid = (x.range()[0] + x.range()[1]) / 2 + 20;
  svg.append("text").attr("x",mid).attr("y",894).attr("text-anchor","middle")
    .style("font-size","22px").text("Latency (msec)");
});

// amplitude scale bar
const barScale = d3.scaleLinear().domain([0,1]).range([428, 428 - PX_PER_UV]);
const barX = 670, barTop = barScale(0.5), barBot = barScale(0);
svg.append("path")
  .attr("d",`M${barX-7},${barTop}H${barX}V${barBot}H${barX-7}`)
  .attr("fill","none").attr("stroke","#000").attr("stroke-width",3);
svg.append("text").attr("x",686).attr("y",383)
  .style("font-size","31px").text("0.5 \u00b5V");
</script>
</body></html>
